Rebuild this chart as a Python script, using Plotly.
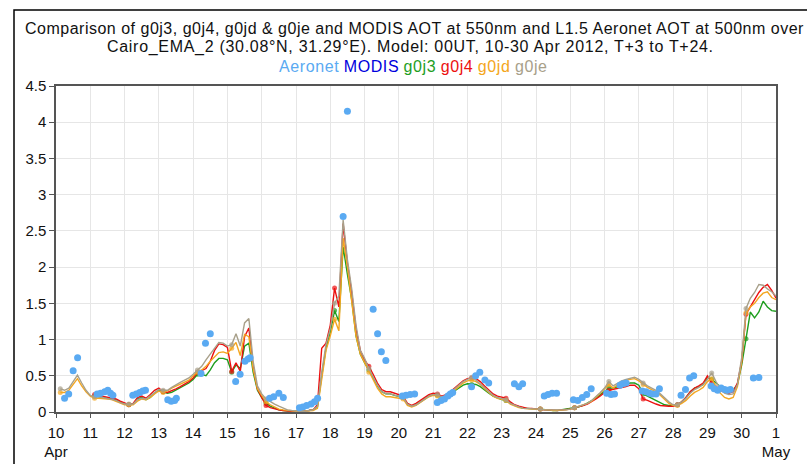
import plotly.graph_objects as go

# Forecast days (April 2012) and 3-hourly lead times T+3 .. T+24
forecast_days = list(range(10, 31))
lead_hours = [3, 6, 9, 12, 15, 18, 21, 24]

# Model AOT at 550nm, one row of 8 lead times per forecast day
g0j3 = [
    None, None, None, None, None, None, None, None,          # 10
    0.22, 0.21, 0.21, 0.20, 0.19, 0.17, 0.14, 0.11,          # 11
    0.10, 0.11, 0.18, 0.20, 0.17, 0.20, 0.26, 0.30,          # 12
    0.28, 0.26, 0.27, 0.30, 0.33, 0.36, 0.40, 0.45,          # 13
    0.52, 0.52, 0.50, 0.58, 0.68, 0.74, 0.74, 0.72,          # 14
    0.55, 0.65, 0.60, 0.91, 0.95, 0.55, 0.30, 0.20,          # 15
    0.12, 0.08, 0.05, 0.03, 0.02, 0.01, 0.01, 0.01,          # 16
    0.01, 0.01, 0.02, 0.03, 0.07, 0.50, 0.88, 1.10,          # 17
    1.40, 1.25, 2.28, 1.90, 1.55, 1.05, 0.80, 0.68,          # 18
    0.58, 0.47, 0.36, 0.28, 0.25, 0.25, 0.23, 0.21,          # 19
    0.20, 0.11, 0.08, 0.10, 0.14, 0.18, 0.22, 0.24,          # 20
    0.23, 0.20, 0.22, 0.25, 0.29, 0.33, 0.37, 0.39,          # 21
    0.38, 0.38, 0.35, 0.30, 0.26, 0.22, 0.19, 0.17,          # 22
    0.16, 0.12, 0.09, 0.07, 0.05, 0.05, 0.04, 0.04,          # 23
    0.04, 0.03, 0.03, 0.02, 0.02, 0.03, 0.03, 0.04,          # 24
    0.06, 0.07, 0.09, 0.12, 0.15, 0.19, 0.24, 0.29,          # 25
    0.33, 0.33, 0.35, 0.37, 0.38, 0.40, 0.40, 0.37,          # 26
    0.25, 0.22, 0.19, 0.15, 0.12, 0.10, 0.09, 0.09,          # 27
    0.10, 0.14, 0.20, 0.28, 0.33, 0.35, 0.38, 0.48,          # 28
    0.45, 0.40, 0.35, 0.30, 0.28, 0.30, 0.38, 0.65,          # 29
    1.01, 1.38, 1.30, 1.38, 1.53, 1.45, 1.40, 1.39,          # 30
]
g0j4 = [
    None, None, None, None, None, None, None, None,          # 10
    0.24, 0.23, 0.22, 0.21, 0.20, 0.18, 0.15, 0.12,          # 11
    0.10, 0.12, 0.20, 0.22, 0.19, 0.24, 0.30, 0.33,          # 12
    0.28, 0.27, 0.29, 0.32, 0.35, 0.38, 0.42, 0.47,          # 13
    0.55, 0.57, 0.60, 0.70, 0.85, 0.94, 0.93, 0.89,          # 14
    0.56, 0.68, 0.56, 1.04, 1.16, 0.62, 0.32, 0.20,          # 15
    0.09, 0.06, 0.04, 0.03, 0.02, 0.01, 0.01, 0.01,          # 16
    0.01, 0.01, 0.02, 0.03, 0.10, 0.88, 0.95, 1.20,          # 17
    1.71, 1.45, 2.60, 2.05, 1.65, 1.15, 0.85, 0.72,          # 18
    0.63, 0.52, 0.40, 0.31, 0.28, 0.28, 0.26, 0.24,          # 19
    0.22, 0.12, 0.09, 0.12, 0.16, 0.20, 0.24, 0.26,          # 20
    0.25, 0.22, 0.24, 0.28, 0.33, 0.38, 0.43, 0.46,          # 21
    0.47, 0.46, 0.42, 0.36, 0.30, 0.25, 0.22, 0.20,          # 22
    0.19, 0.14, 0.10, 0.08, 0.06, 0.05, 0.05, 0.04,          # 23
    0.04, 0.03, 0.03, 0.02, 0.02, 0.03, 0.03, 0.04,          # 24
    0.06, 0.07, 0.09, 0.11, 0.14, 0.18, 0.22, 0.27,          # 25
    0.30, 0.31, 0.32, 0.33, 0.35, 0.37, 0.37, 0.32,          # 26
    0.18, 0.16, 0.13, 0.11, 0.09, 0.08, 0.08, 0.08,          # 27
    0.10, 0.14, 0.20, 0.28, 0.33, 0.36, 0.40, 0.50,          # 28
    0.40, 0.36, 0.30, 0.27, 0.26, 0.28, 0.40, 0.70,          # 29
    1.35, 1.45, 1.55, 1.65, 1.72, 1.76, 1.68, 1.57,          # 30
]
g0jd = [
    0.27, 0.27, 0.30, 0.38, 0.46, 0.36, 0.28, 0.22,          # 10
    0.19, 0.19, 0.19, 0.18, 0.17, 0.15, 0.12, 0.10,          # 11
    0.10, 0.10, 0.15, 0.18, 0.17, 0.20, 0.25, 0.29,          # 12
    0.27, 0.29, 0.33, 0.36, 0.38, 0.41, 0.44, 0.50,          # 13
    0.55, 0.58, 0.63, 0.70, 0.76, 0.82, 0.83, 0.81,          # 14
    0.88, 0.96, 0.78, 1.07, 1.04, 0.60, 0.32, 0.22,          # 15
    0.14, 0.10, 0.07, 0.04, 0.03, 0.02, 0.01, 0.01,          # 16
    0.01, 0.01, 0.01, 0.02, 0.05, 0.45, 0.85, 1.05,          # 17
    1.28, 1.12, 2.40, 2.00, 1.55, 1.05, 0.80, 0.68,          # 18
    0.55, 0.43, 0.33, 0.25, 0.21, 0.21, 0.20, 0.19,          # 19
    0.18, 0.09, 0.07, 0.09, 0.13, 0.17, 0.21, 0.23,          # 20
    0.22, 0.19, 0.21, 0.25, 0.30, 0.35, 0.40, 0.43,          # 21
    0.44, 0.42, 0.38, 0.32, 0.27, 0.22, 0.19, 0.17,          # 22
    0.16, 0.11, 0.08, 0.06, 0.05, 0.04, 0.04, 0.04,          # 23
    0.04, 0.03, 0.03, 0.02, 0.02, 0.03, 0.03, 0.04,          # 24
    0.06, 0.07, 0.09, 0.12, 0.15, 0.20, 0.26, 0.32,          # 25
    0.38, 0.33, 0.38, 0.42, 0.44, 0.45, 0.46, 0.43,          # 26
    0.38, 0.34, 0.31, 0.28, 0.23, 0.17, 0.12, 0.09,          # 27
    0.09, 0.12, 0.16, 0.22, 0.27, 0.30, 0.34, 0.42,          # 28
    0.46, 0.35, 0.26, 0.20, 0.18, 0.20, 0.35, 0.70,          # 29
    1.37, 1.45, 1.50, 1.58, 1.64, 1.66, 1.58, 1.55,          # 30
]
g0je = [
    0.32, 0.30, 0.33, 0.42, 0.51, 0.40, 0.30, 0.23,          # 10
    0.21, 0.21, 0.20, 0.19, 0.18, 0.16, 0.13, 0.11,          # 11
    0.11, 0.11, 0.17, 0.19, 0.18, 0.22, 0.27, 0.31,          # 12
    0.30, 0.30, 0.34, 0.38, 0.41, 0.44, 0.47, 0.52,          # 13
    0.58, 0.63, 0.72, 0.80, 0.88, 0.96, 0.95, 0.91,          # 14
    0.93, 1.08, 0.91, 1.23, 1.29, 0.70, 0.36, 0.25,          # 15
    0.18, 0.14, 0.11, 0.08, 0.05, 0.03, 0.02, 0.01,          # 16
    0.01, 0.01, 0.02, 0.03, 0.08, 0.55, 0.93, 1.15,          # 17
    1.50, 1.60, 2.65, 2.10, 1.70, 1.20, 0.85, 0.74,          # 18
    0.60, 0.48, 0.37, 0.28, 0.25, 0.25, 0.23, 0.21,          # 19
    0.20, 0.11, 0.08, 0.10, 0.14, 0.18, 0.22, 0.24,          # 20
    0.24, 0.21, 0.23, 0.27, 0.32, 0.37, 0.42, 0.45,          # 21
    0.48, 0.44, 0.39, 0.33, 0.28, 0.23, 0.20, 0.18,          # 22
    0.17, 0.12, 0.09, 0.07, 0.05, 0.05, 0.04, 0.04,          # 23
    0.04, 0.03, 0.03, 0.02, 0.02, 0.03, 0.03, 0.04,          # 24
    0.06, 0.07, 0.09, 0.12, 0.16, 0.21, 0.27, 0.33,          # 25
    0.42, 0.36, 0.40, 0.43, 0.45, 0.47, 0.48, 0.45,          # 26
    0.40, 0.36, 0.33, 0.30, 0.25, 0.19, 0.14, 0.10,          # 27
    0.10, 0.14, 0.19, 0.26, 0.31, 0.34, 0.38, 0.45,          # 28
    0.54, 0.42, 0.32, 0.26, 0.24, 0.25, 0.38, 0.75,          # 29
    1.43, 1.57, 1.65, 1.76, 1.75, 1.70, 1.66, 1.60,          # 30
]

# L1.5 Aeronet AOT at 500nm (day of April, AOT)
aeronet_day = [
    10.25, 10.37, 10.50, 10.63,
    11.20, 11.30, 11.42, 11.51, 11.59, 11.66,
    12.24, 12.34, 12.44, 12.53, 12.61,
    13.26, 13.36, 13.46, 13.51,
    14.23, 14.36, 14.50,
    15.24, 15.37, 15.51, 15.60, 15.66,
    16.23, 16.35, 16.50, 16.63,
    17.10, 17.20, 17.31, 17.44, 17.54, 17.63,
    18.375, 18.50,
    19.25, 19.38, 19.49, 19.62,
    20.10, 20.21, 20.33, 20.46,
    21.12, 21.23, 21.33, 21.43, 21.50, 21.57,
    22.12, 22.24, 22.36, 22.51, 22.62,
    23.37, 23.50, 23.61,
    24.24, 24.35, 24.47, 24.60,
    25.09, 25.22, 25.35, 25.48, 25.61,
    26.06, 26.19, 26.29, 26.45, 26.53, 26.63,
    27.10, 27.21, 27.31, 27.40, 27.50, 27.60,
    28.23, 28.36, 28.48, 28.60,
    29.11, 29.20, 29.30, 29.40, 29.50, 29.59, 29.67,
    30.34, 30.50,
]
aeronet_aot = [
    0.19, 0.25, 0.57, 0.75,
    0.25, 0.26, 0.28, 0.30, 0.26, 0.23,
    0.23, 0.25, 0.27, 0.29, 0.30,
    0.17, 0.15, 0.16, 0.19,
    0.53, 0.95, 1.08,
    0.42, 0.52, 0.70, 0.73, 0.75,
    0.19, 0.21, 0.26, 0.20,
    0.06, 0.07, 0.09, 0.11, 0.14, 0.19,
    2.70, 4.15,
    1.42, 1.08, 0.83, 0.71,
    0.22, 0.23, 0.24, 0.25,
    0.13, 0.16, 0.18, 0.22, 0.25, 0.27,
    0.35, 0.50, 0.55, 0.44, 0.40,
    0.39, 0.35, 0.39,
    0.22, 0.24, 0.26, 0.26,
    0.17, 0.16, 0.20, 0.24, 0.32,
    0.26, 0.24, 0.25, 0.37, 0.39, 0.40,
    0.29, 0.28, 0.26, 0.25, 0.25, 0.32,
    0.23, 0.31, 0.47, 0.50,
    0.36, 0.32, 0.30, 0.33, 0.31, 0.30, 0.31,
    0.47, 0.475,
]

# MODIS AOT at 550nm: no retrievals over the site in this period
modis_day = []
modis_aot = []

tick_days = list(range(10, 32))
tick_text = ["10<br>Apr"] + [str(d) for d in range(11, 31)] + ["1<br>May"]
y_ticks = [0, 0.5, 1, 1.5, 2, 2.5, 3, 3.5, 4, 4.5]
y_tick_text = ["0", "0.5", "1", "1.5", "2", "2.5", "3", "3.5", "4", "4.5"]

colors = {
    "Aeronet": "#5aaaf2",
    "MODIS": "#0000dd",
    "g0j3": "#1e9e1e",
    "g0j4": "#ec1010",
    "g0jd": "#f4a620",
    "g0je": "#a8a08a",
}

valid_time = [d + h / 24 for d in forecast_days for h in lead_hours]
# marker on the first lead time of each forecast
marker_size = [5 if h == lead_hours[0] else 0 for d in forecast_days for h in lead_hours]

fig = go.Figure()
for name, values in [("g0j3", g0j3), ("g0j4", g0j4), ("g0jd", g0jd), ("g0je", g0je)]:
    fig.add_trace(go.Scatter(
        x=valid_time, y=values, name=name, mode="lines+markers",
        line=dict(color=colors[name], width=1.4),
        marker=dict(size=marker_size, color=colors[name], line=dict(width=0)),
        connectgaps=False, showlegend=False,
    ))
fig.add_trace(go.Scatter(
    x=modis_day, y=modis_aot, name="MODIS", mode="markers",
    marker=dict(size=7, color=colors["MODIS"]), showlegend=False,
))
fig.add_trace(go.Scatter(
    x=aeronet_day, y=aeronet_aot, name="Aeronet", mode="markers",
    marker=dict(size=7, color=colors["Aeronet"], line=dict(width=0)),
    showlegend=False,
))

font = "Liberation Sans, Arial, Helvetica, sans-serif"
L, R, T, B = 56, 31, 86, 52
W, H = 807, 464
pw, ph = W - L - R, H - T - B

def px_x(x):
    return (x - L) / pw

def px_y(y):
    return (H - B - y) / ph

def spaced(text, spacing):
    return f"<span style='letter-spacing:{spacing}'>{text}</span>"

legend_html = "&nbsp;".join(
    f"<span style='color:{colors[k]};letter-spacing:0.6px'>{k}</span>"
    for k in ["Aeronet", "MODIS", "g0j3", "g0j4", "g0jd", "g0je"]
)

annotations = [
    dict(text=spaced("Comparison of g0j3, g0j4, g0jd &amp; g0je and MODIS AOT at 550nm and L1.5 Aeronet AOT at 500nm over", "0.5px"),
         x=px_x(414), y=px_y(28.5)),
    dict(text=spaced("Cairo_EMA_2 (30.08°N, 31.29°E). Model: 00UT, 10-30 Apr 2012, T+3 to T+24.", "0.7px"),
         x=px_x(410), y=px_y(47)),
    dict(text=legend_html, x=px_x(413), y=px_y(67)),
]
for a in annotations:
    a.update(xref="paper", yref="paper", xanchor="center", yanchor="middle",
             showarrow=False, font=dict(family=font, size=16, color="#111"))

fig.update_layout(
    width=W, height=H,
    margin=dict(l=L, r=R, t=T, b=B, autoexpand=False),
    paper_bgcolor="white", plot_bgcolor="white",
    font=dict(family=font, size=15, color="#111"),
    annotations=annotations,
    shapes=[dict(type="rect", xref="paper", yref="paper",
                 x0=px_x(14), y0=px_y(600), x1=px_x(900), y1=px_y(10),
                 line=dict(color="black", width=1.5), layer="above")],
    showlegend=False,
)
fig.update_xaxes(
    range=[10, 31], tickvals=tick_days, ticktext=tick_text,
    showgrid=True, gridcolor="#e6e6e6", gridwidth=1,
    showline=True, linecolor="#555", linewidth=1.5, mirror=True,
    ticks="outside", ticklen=4, tickcolor="#555", zeroline=False,
    ticklabelstandoff=2, automargin=False,
    tickfont=dict(family=font, size=15, color="#111"),
)
fig.update_yaxes(
    range=[0, 4.5], tickvals=y_ticks, ticktext=y_tick_text,
    showgrid=True, gridcolor="#e6e6e6", gridwidth=1,
    showline=True, linecolor="#555", linewidth=1.5, mirror=True,
    ticks="outside", ticklen=5, tickcolor="#555", zeroline=False,
    automargin=False,
    tickfont=dict(family=font, size=15, color="#111"),
)

fig.write_html("out.html")
